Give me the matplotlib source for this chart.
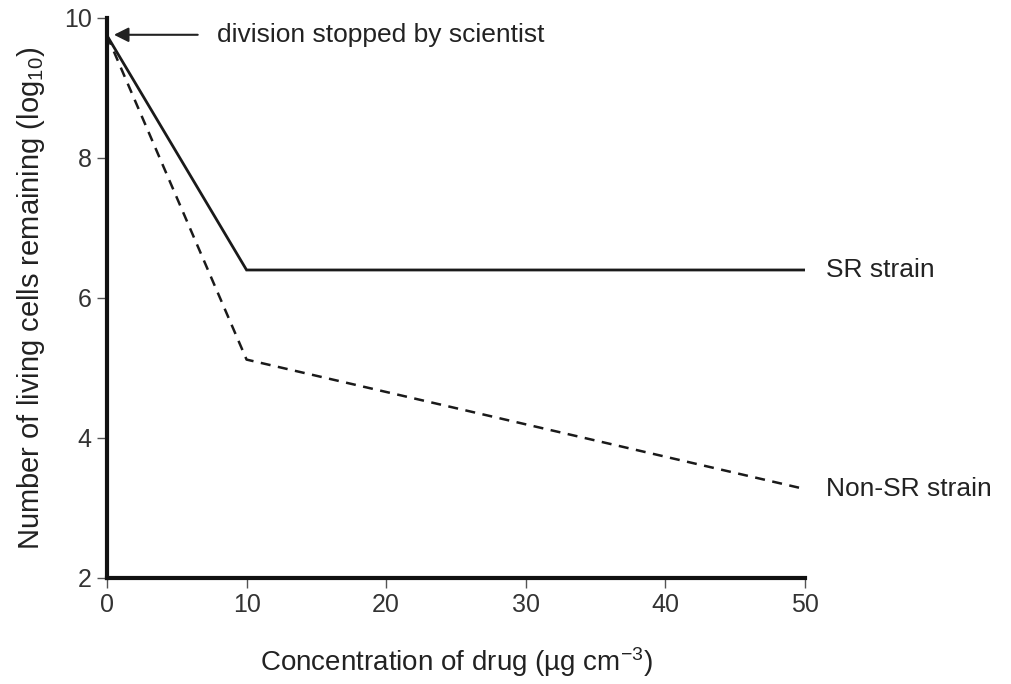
import matplotlib
matplotlib.use('Agg')
import matplotlib.pyplot as plt

# data
conc = [0, 10, 50]
sr_strain = [9.75, 6.4, 6.4]
non_sr_strain = [9.75, 5.12, 3.27]
xticks = [0, 10, 20, 30, 40, 50]
yticks = [2, 4, 6, 8, 10]

plt.rcParams['font.family'] = ['Liberation Sans', 'DejaVu Sans']
plt.rcParams['mathtext.fontset'] = 'custom'
plt.rcParams['mathtext.rm'] = 'Liberation Sans'
plt.rcParams['mathtext.default'] = 'regular'

fig = plt.figure(figsize=(10.11, 6.84), dpi=100)
ax = fig.add_axes([0.1058, 0.155, 0.6904, 0.8187])

ax.plot(conc, sr_strain, color='#1a1a1a', lw=2, solid_joinstyle='miter')
ax.plot(conc, non_sr_strain, color='#1a1a1a', lw=1.8, ls=(0, (4, 3)))

ax.set_xlim(0, 50)
ax.set_ylim(2, 10)
ax.set_xticks(xticks)
ax.set_yticks(yticks)
for s in ['top', 'right']:
    ax.spines[s].set_visible(False)
for s in ['left', 'bottom']:
    ax.spines[s].set_linewidth(3)
    ax.spines[s].set_color('#111111')
ax.tick_params(direction='out', length=7, width=1, color='#555555',
               labelsize=18, labelcolor='#333333', pad=4)

ax.set_xlabel('Concentration of drug (µg cm$^{-3}$)', fontsize=20,
              color='#222222', labelpad=20)
ax.set_ylabel('Number of living cells remaining (log$_{10}$)', fontsize=21,
              color='#222222', labelpad=12)

ax.text(51.5, sr_strain[-1], 'SR strain', fontsize=19, color='#222222',
        va='center', clip_on=False)
ax.text(51.5, non_sr_strain[-1], 'Non-SR strain', fontsize=19,
        color='#222222', va='center', clip_on=False)

ax.annotate('', xy=(0.3, 9.76), xytext=(6.7, 9.76),
            arrowprops=dict(arrowstyle='-|>', color='#222222', lw=1.5,
                            mutation_scale=22))
ax.text(7.9, 9.76, 'division stopped by scientist', fontsize=19,
        color='#222222', va='center')

fig.savefig('out.png', dpi=100)
